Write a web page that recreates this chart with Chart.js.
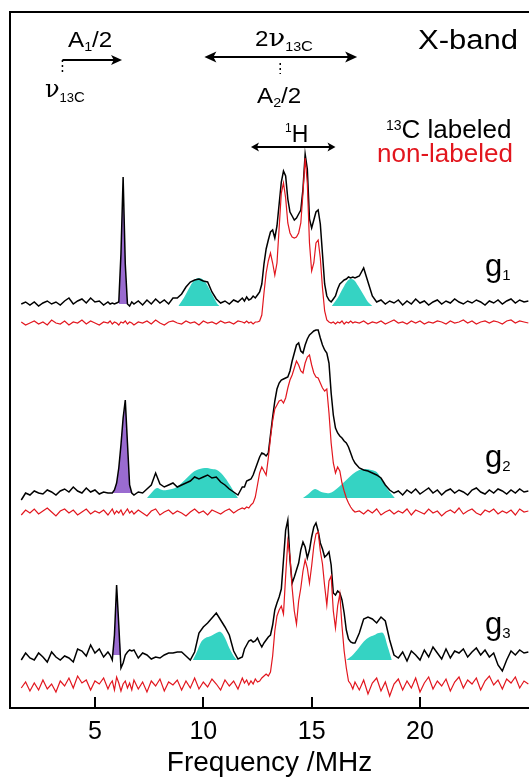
<!DOCTYPE html><html><head>
<title>X-band ENDOR</title>
<style>
  body { margin: 0; background: #fff; overflow: hidden; }
  #wrap { width: 529px; height: 778px; }
</style>
</head>
<body>
<div id="wrap"><canvas id="chart"></canvas></div>
<script src="https://cdn.jsdelivr.net/npm/chart.js"></script>
<script>
const FONT = "'Liberation Sans', Arial, sans-serif";
const SERIF = "'DejaVu Serif', serif";
const RED = '#e2161e';
const PURPLE = '#9a6bd0';
const CYAN = '#35d3c3';

// frequency grid (MHz), finer around the sharp lines
const FREQ = [
  1.6,1.8,2,2.2,2.4,2.6,2.8,3,3.2,3.4,3.6,3.8,4,4.2,4.4,4.6,4.8,5,5.2,5.4,5.6,
  5.7,5.8,5.9,6,6.1,6.2,6.3,6.4,6.5,6.6,6.7,
  6.8,7,7.2,7.4,7.6,7.8,8,8.2,8.4,8.6,8.8,9,9.2,9.4,9.6,9.8,10,10.2,10.4,10.6,10.8,11,11.2,11.4,11.6,11.8,
  11.9,12,12.1,12.2,12.3,12.4,12.5,12.6,12.7,12.8,12.9,13,13.1,13.2,13.3,13.4,13.5,13.6,13.7,13.8,
  13.9,14,14.1,14.2,14.3,14.4,14.5,14.6,14.7,14.8,14.9,15,15.1,15.2,15.3,15.4,15.5,15.6,15.7,15.8,
  15.9,16,16.1,16.2,16.3,16.4,16.5,16.6,16.7,16.8,16.9,17,
  17.2,17.4,17.6,17.8,18,18.2,18.4,18.6,18.8,19,19.2,19.4,19.6,19.8,20,20.2,20.4,20.6,20.8,21,
  21.2,21.4,21.6,21.8,22,22.2,22.4,22.6,22.8,23,23.2,23.4,23.6,23.8,24,24.2,24.4,24.6,24.8,25
];
const TICKS = [5, 10, 15, 20];
const PANELS = ['g1', 'g2', 'g3'];

// signal above each trace's own baseline
const G1_C13 = [
  0,2,-1,2,-2,1,3,0,2,-1,3,6,0,3,5,1,6,2,3,-1,2,
  0,1,0,1,2,50,127,40,0,-2,2,
  0,3,-1,4,0,5,1,4,0,6,6,10,17,22,24,25,23,22,12,5,1,3,0,4,2,6,
  3,7,4,5,8,6,9,12,20,40, 55,64,72,74,66,78,100,122,133,128,
  105,92,88,84,86,90,94,115,150,135, 85,76,84,92,94,80,50,20,8,4,
  2,5,8,15,20,22,24,25,27,26, 27,26,
  28,36,22,8,2,4,0,3,1,4, -1,3,0,5,1,3,-1,2,4,0,
  3,1,5,2,0,3,1,4,2,-1, 3,1,4,0,3,5,1,4,2,3
];
const G1_NAT = [
  1,-2,0,2,-1,1,-2,3,0,-1,2,-2,1,0,3,-1,2,0,-2,1,0,
  2,-1,1,0,-2,1,0,2,-1,1,0,
  -2,1,0,2,-1,3,0,-2,1,2,0,-1,2,0,1,-2,2,0,1,-1,2,0,1,-1,2,1,
  0,2,0,1,-1,1,1,2,8,30, 50,62,70,60,48,60,95,130,140,125,
  100,90,86,85,86,90,100,130,165,140, 80,52,60,80,83,65,35,12,3,1,
  0,1,-1,1,0,2,-1,1,0,2, 0,1,
  0,2,-1,1,0,2,-1,1,3,0, 1,-1,2,0,2,-1,1,0,2,1,
  -1,2,0,1,3,0,2,-1,1,2, 0,2,1,-1,2,3,0,2,1,0
];
const G2_C13 = [
  -7,0,-2,2,0,-1,3,1,-2,2,4,1,6,2,0,5,1,3,-1,1,0,
  0,0,3,10,25,48,75,93,50,8,0,
  -2,1,0,4,8,20,9,6,8,10,6,8,10,12,16,14,16,18,15,16,11,8,4,1,-2,6,
  6,12,13,14,18,24,30,36,40,39, 37,40,58,76,92,104,110,113,114,115,
  116,122,132,140,148,150,142,140,148,154, 158,160,162,163,163,155,148,143,140,130,
  100,78,65,60,57,55,52,50,46,40, 34,30,
  25,23,22,20,18,15,8,3,0,2, -2,3,0,4,-1,2,5,0,3,-2,
  2,4,0,3,1,-2,3,5,1,-1, 3,0,4,2,-1,3,0,4,1,2
];
const G2_NAT = [
  -2,3,0,4,-1,2,5,1,-3,2,4,0,3,-2,1,4,-1,2,0,3,-2,
  1,4,-1,2,0,3,-2,1,4,0,2,
  -1,3,0,-3,2,4,-2,1,3,-1,2,0,-3,1,4,0,2,-2,3,1,-1,2,4,0,3,5,
  4,6,5,8,10,16,28,40,46,42, 38,55,75,92,104,108,112,113,110,115,
  125,133,138,145,152,148,142,140,150,156, 158,148,140,136,135,130,125,122,124,100,
  70,50,40,46,42,30,22,15,10,6, 3,1,
  2,-1,3,0,4,-2,1,3,-1,2, 0,4,-2,3,1,-1,4,0,2,-3,
  1,3,0,5,-1,2,4,0,-2,3, 1,4,-1,2,0,3,-2,4,1,2
];
const G3_C13 = [
  -5,2,-3,-5,2,-2,-7,3,-2,-5,-1,-3,-7,6,4,-1,10,2,6,-2,3,
  0,-5,20,70,30,-13,-8,0,3,5,4,
  5,-3,2,0,-4,-2,-3,0,2,2,3,3,-1,-5,3,22,28,32,37,42,35,28,20,4,-4,-2,
  6,10,14,15,13,14,17,12,8,12, 15,18,20,30,45,52,58,66,95,125,
  135,95,72,78,85,92,105,113,108,97, 105,118,128,132,124,112,106,98,100,103,
  90,62,60,64,62,55,42,25,16,13, 12,12,
  22,36,38,36,32,38,34,15,0,-3, 3,-6,4,0,-5,5,-2,8,2,-4,
  6,-3,4,2,6,-2,3,7,0,5, -2,2,-10,-16,-5,4,0,5,2,3
];
const G3_NAT = [
  -2,4,-5,3,-4,6,-3,2,-6,5,0,8,-2,10,3,6,-4,5,2,8,-3,
  2,5,-4,9,3,-5,2,5,-2,3,-4,
  6,-3,4,-6,5,0,7,-5,4,1,6,-4,5,-2,8,-3,4,-1,7,2,-4,6,0,5,-3,8,
  3,6,1,5,2,7,4,5,8,10, 12,10,14,30,55,70,76,80,72,110,
  145,130,98,75,62,85,98,115,126,118, 103,120,140,152,154,135,122,100,81,105,
  110,75,58,80,92,60,35,18,5,2, -3,4,
  -4,6,-8,3,8,-5,4,-10,2,7, -4,5,-2,8,-6,3,9,-3,5,0,
  7,-5,4,9,-2,6,2,8,-4,5, 10,1,6,-3,7,3,9,-2,5,2
];
const LABELLED = [G1_C13, G2_C13, G3_C13];
const NATURAL = [G1_NAT, G2_NAT, G3_NAT];

// vertical offsets of the stacked traces
const BASE_C13 = [404, 215, 53];
const BASE_NAT = [385, 195, 22];
const BASE_FIT = [402, 210, 48];

// 13C matrix line (purple) window, MHz
const PEAK_WIN = [[6.1, 6.5], [5.8, 6.7], [5.8, 6.2]];

// simulated 13C hyperfine shapes (cyan)
const FIT_L_F = [
  [8.85, 9.1, 9.35, 9.55, 9.75, 9.95, 10.15, 10.4, 10.65, 10.75],
  [7.4, 7.6, 7.86, 8.1, 8.32, 8.55, 8.78, 9.0, 9.24, 9.48, 9.7, 10.07, 10.4, 10.63, 10.9, 11.23, 11.45, 11.6],
  [9.52, 9.7, 9.9, 10.1, 10.35, 10.6, 10.8, 11.0, 11.2, 11.4, 11.55]
];
const FIT_L = [
  [0, 8, 18, 25, 28, 27, 22, 12, 2, 0],
  [0, 5, 10, 8, 8, 9, 11, 15, 20, 25, 28, 30, 29, 28, 23, 13, 5, 0],
  [0, 8, 18, 22, 24, 27, 28, 22, 12, 4, 0]
];
const FIT_R_F = [
  [15.93, 16.2, 16.45, 16.65, 16.8, 16.95, 17.15, 17.4, 17.6, 17.8],
  [14.6, 14.85, 15.15, 15.45, 15.84, 16.2, 16.55, 16.9, 17.2, 17.45, 17.75, 18.0, 18.25, 18.5, 18.84],
  [16.6, 16.85, 17.1, 17.35, 17.6, 17.9, 18.1, 18.3, 18.5, 18.7]
];
const FIT_R = [
  [0, 8, 18, 25, 27, 26, 20, 11, 4, 0],
  [0, 4, 9, 6, 5, 10, 17, 24, 28, 29, 28, 26, 18, 9, 0],
  [0, 4, 10, 17, 22, 25, 27, 27, 14, 0]
];

// annotations: arrows in MHz, heights in px
const ARROWS = [
  {from: 3.5, to: 6.25, y: 60, heads: [false, true], len: 11, hw: 5},
  {from: 10.05, to: 17.1, y: 57, heads: [true, true], len: 12, hw: 5.5},
  {from: 12.2, to: 16.1, y: 147, heads: [true, true], len: 8, hw: 4.5}
];
const MARKS = [{at: 3.5, y0: 60, y1: 74}, {at: 13.55, y0: 63, y1: 74}];
const LABELS = [
  {x: 68, y: 47, sx: 1.1, parts: [['A', 22], ['1', 13, 4], ['/2', 22]]},
  {x: 45, y: 97, parts: [['\u03bd', 24, 0, SERIF], ['13', 13, 5], ['C', 15, 5]]},
  {x: 255, y: 46, sx: 1.1, parts: [['2', 22], ['\u03bd', 25, 0, SERIF], ['13', 13, 5], ['C', 15, 5]]},
  {x: 257, y: 103, sx: 1.1, parts: [['A', 22], ['2', 13, 4], ['/2', 22]]},
  {x: 418, y: 49, sx: 1.15, parts: [['X-band', 27]]},
  {x: 285, y: 142, parts: [['1', 12, -10], ['H', 23]]},
  {x: 386, y: 138, parts: [['13', 14, -8], ['C labeled', 26]]},
  {x: 377, y: 162, color: RED, parts: [['non-labeled', 26]]},
  {x: 485, y: 276, parts: [['g', 31], ['1', 15, 4]]},
  {x: 485, y: 467, parts: [['g', 31], ['2', 15, 4]]},
  {x: 485, y: 634, parts: [['g', 31], ['3', 15, 4]]}
];

function trace(vals, base) {
  return FREQ.map((f, i) => ({x: f, y: base + vals[i]}));
}
function peak(vals, base, win) {
  const out = [];
  FREQ.forEach((f, i) => { if (f >= win[0] - 1e-6 && f <= win[1] + 1e-6) out.push({x: f, y: base + Math.max(0, vals[i])}); });
  return out;
}
function shape(fs, hs, base) {
  return fs.map((f, i) => ({x: f, y: base + hs[i]}));
}

const datasets = [];
PANELS.forEach((name, p) => {
  datasets.push({label: name + ' 13C', data: trace(LABELLED[p], BASE_C13[p]), borderColor: '#000', borderWidth: 1.5, order: 2});
  datasets.push({label: name + ' nat', data: trace(NATURAL[p], BASE_NAT[p]), borderColor: RED, borderWidth: 1.2, order: 1});
  datasets.push({label: name + ' matrix', data: peak(LABELLED[p], BASE_C13[p], PEAK_WIN[p]), borderColor: 'rgba(0,0,0,0)', borderWidth: 0,
    backgroundColor: PURPLE, fill: {value: BASE_C13[p]}, order: 3});
  datasets.push({label: name + ' fit L', data: shape(FIT_L_F[p], FIT_L[p], BASE_FIT[p]), borderColor: 'rgba(0,0,0,0)', borderWidth: 0,
    backgroundColor: CYAN, fill: {value: BASE_FIT[p]}, tension: 0.35, order: 3});
  datasets.push({label: name + ' fit R', data: shape(FIT_R_F[p], FIT_R[p], BASE_FIT[p]), borderColor: 'rgba(0,0,0,0)', borderWidth: 0,
    backgroundColor: CYAN, fill: {value: BASE_FIT[p]}, tension: 0.35, order: 3});
});

function line(ctx, x0, y0, x1, y1) {
  ctx.beginPath(); ctx.moveTo(x0, y0); ctx.lineTo(x1, y1); ctx.stroke();
}
function head(ctx, x, y, dir, len, hw) {
  ctx.beginPath();
  ctx.moveTo(x, y);
  ctx.lineTo(x - dir * len, y - hw);
  ctx.lineTo(x - dir * len * 0.75, y);
  ctx.lineTo(x - dir * len, y + hw);
  ctx.closePath();
  ctx.fill();
}
function rich(ctx, lab) {
  ctx.save();
  ctx.translate(lab.x, lab.y);
  ctx.scale(lab.sx || 1, 1);
  ctx.fillStyle = lab.color || '#000';
  ctx.textBaseline = 'alphabetic';
  let cx = 0;
  lab.parts.forEach(p => {
    ctx.font = p[1] + 'px ' + (p[3] || FONT);
    ctx.fillText(p[0], cx, p[2] || 0);
    cx += ctx.measureText(p[0]).width;
  });
  ctx.restore();
}

const annotate = {
  id: 'annotate',
  afterDraw(chart) {
    const ctx = chart.ctx, a = chart.chartArea, xs = chart.scales.x;
    ctx.save();
    ctx.strokeStyle = '#000';
    ctx.fillStyle = '#000';
    ctx.lineWidth = 2;
    line(ctx, a.left, a.top, a.right, a.top);
    TICKS.forEach(v => {
      const x = Math.round(xs.getPixelForValue(v));
      line(ctx, x, a.bottom, x, a.bottom - 11);
    });
    ARROWS.forEach(ar => {
      const x0 = xs.getPixelForValue(ar.from), x1 = xs.getPixelForValue(ar.to);
      line(ctx, x0 + (ar.heads[0] ? ar.len * 0.6 : 0), ar.y, x1 - (ar.heads[1] ? ar.len * 0.6 : 0), ar.y);
      if (ar.heads[0]) head(ctx, x0, ar.y, -1, ar.len, ar.hw);
      if (ar.heads[1]) head(ctx, x1, ar.y, 1, ar.len, ar.hw);
    });
    ctx.lineWidth = 1.5;
    ctx.setLineDash([2, 3]);
    MARKS.forEach(m => {
      const x = xs.getPixelForValue(m.at);
      line(ctx, x, m.y0, x, m.y1);
    });
    ctx.setLineDash([]);
    LABELS.forEach(l => rich(ctx, l));
    ctx.restore();
  }
};

Chart.defaults.font.family = FONT;
const chart = new Chart(document.getElementById('chart').getContext('2d'), {
  type: 'line',
  data: {datasets: datasets},
  options: {
    responsive: true,
    maintainAspectRatio: false,
    animation: false,
    layout: {padding: {left: 10, top: 12, right: 0, bottom: 0}},
    elements: {point: {radius: 0}, line: {tension: 0}},
    plugins: {legend: {display: false}, tooltip: {enabled: false}},
    scales: {
      x: {
        type: 'linear', min: 1.08, max: 25.03,
        afterBuildTicks: s => { s.ticks = TICKS.map(v => ({value: v})); },
        afterFit: s => { s.height = 70; },
        grid: {display: false, drawTicks: false},
        border: {display: true, color: '#000', width: 2},
        ticks: {color: '#000', padding: 9, maxRotation: 0, font: {size: 25, family: FONT}},
        title: {display: true, text: 'Frequency /MHz', color: '#000',
          font: {size: 28, family: FONT, lineHeight: 1}, padding: {top: 0, bottom: 1}}
      },
      y: {
        min: 0, max: 696,
        ticks: {display: false},
        grid: {display: false, drawTicks: false},
        border: {display: true, color: '#000', width: 2}
      }
    }
  },
  plugins: [annotate]
});
</script>
</body></html>
